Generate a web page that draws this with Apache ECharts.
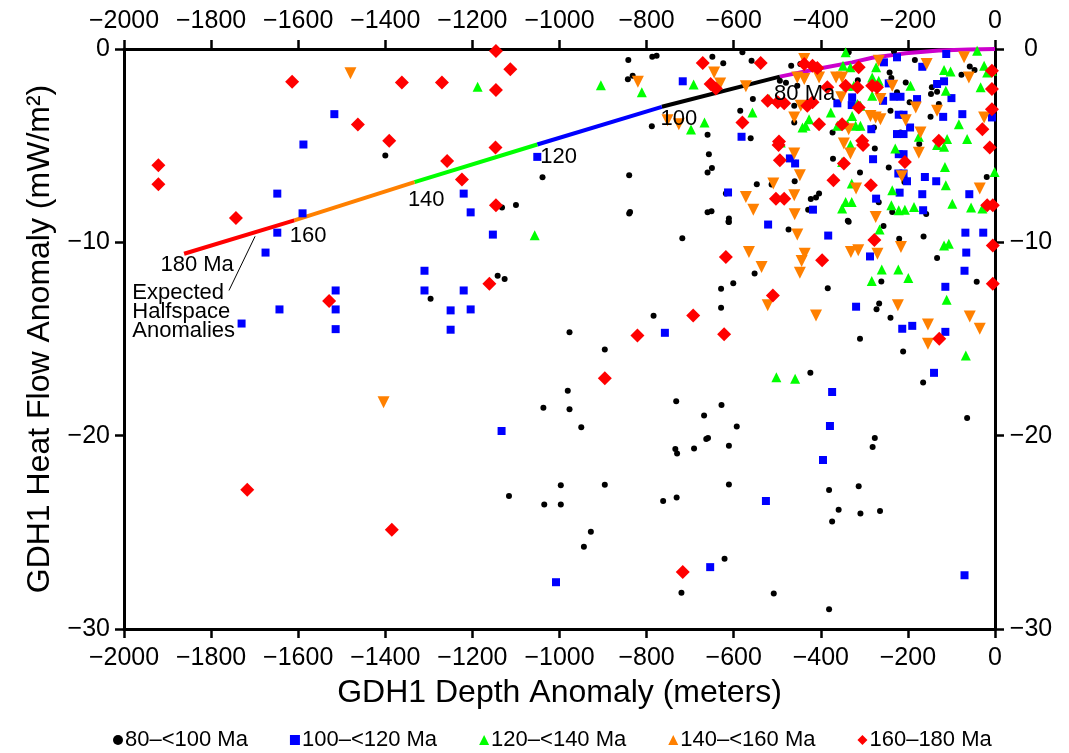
<!DOCTYPE html>
<html>
<head>
<meta charset="utf-8">
<script src="https://cdn.jsdelivr.net/npm/echarts@6/dist/echarts.min.js"></script>
<style>
  html, body { margin: 0; padding: 0; background: #fff; }
  #chart { width: 1069px; height: 753px; }
</style>
</head>
<body>
<div id="chart"></div>
<script>
// age groups: [depth anomaly (m), heat flow anomaly (mW/m2)]
const age80 = [
  [-1400, -5.51],
  [-842, -0.57], [-787, -0.4], [-777, -0.35], [-843, -1.57], [-832, -1.38], [-788, -3.99], [-1039, -6.63],
  [-840, -6.53], [-1132, -8.2], [-1100, -8.07], [-840, -8.51], [-838, -8.43], [-718, -9.79], [-1142, -11.73],
  [-1126, -11.9], [-1296, -12.92], [-784, -13.8], [-977, -14.65],
  [-896, -15.54], [-981, -17.68], [-1037, -18.55], [-977, -18.64], [-950, -19.57], [-732, -18.22], [-734, -20.69],
  [-730, -20.92], [-691, -20.67], [-997, -22.57], [-896, -22.54], [-1116, -23.12], [-1035, -23.56], [-997, -23.56],
  [-762, -23.38], [-731, -23.2], [-928, -24.97], [-944, -25.75], [-720, -28.13],
  [-628, -18.41], [-668, -18.96], [-593, -19.52], [-663, -20.17], [-659, -20.12], [-611, -20.52], [-611, -22.52],
  [-621, -26.37], [-508, -28.17], [-381, -28.98], [-276, -20.12], [-281, -20.59], [-64, -19.08], [-381, -22.81],
  [-313, -22.61], [-359, -23.83], [-309, -24.02], [-264, -23.9], [-374, -24.44],
  [-612, -8.93], [-474, -9.33], [-336, -8.93], [-256, -9.15], [-220, -9.81], [-164, -9.7], [-133, -10.81],
  [-42, -12.04], [-552, -11.61], [-601, -12.11], [-629, -12.4], [-629, -13.38], [-384, -12.37], [-261, -12.02],
  [-266, -13.16], [-272, -13.46], [-240, -13.9], [-310, -14.99], [-211, -15.65], [-424, -16.75], [-165, -17.25],
  [-649, -0.4], [-624, -0.74], [-580, -0.17], [-559, -0.61], [-468, -0.86], [-447, -0.78], [-494, -1.64],
  [-480, -1.75], [-454, -1.9], [-556, -2.59], [-585, -3.2], [-461, -2.94], [-461, -3.8], [-660, -4.44],
  [-561, -4.61], [-373, -4.32], [-405, -1.12],
  [-336, -0.17], [-232, -0.12], [-184, -0.57], [-58, -0.9], [-47, -1.09], [-77, -1.33], [-315, -1.61],
  [-242, -1.21], [-238, -1.5], [-205, -1.73], [-225, -2.24], [-145, -1.98], [-147, -2.33], [-133, -2.21],
  [-196, -2.76], [-129, -2.85], [-240, -3.2], [-148, -3.51], [-278, -4.06], [-217, -4.32],
  [-657, -5.44], [-650, -6.15], [-660, -6.39], [-547, -6.99], [-513, -7.01], [-460, -6.84], [-457, -5.89],
  [-372, -5.68], [-618, -7.48], [-404, -7.48], [-411, -7.68], [-423, -7.76], [-429, -8.31], [-660, -8.45],
  [-651, -8.39], [-611, -8.77], [-611, -8.95],
  [-276, -5.15], [-174, -4.92], [-244, -6.13], [-310, -6.39], [-208, -6.65], [-208, -6.88], [-19, -6.62],
  [-267, -7.93], [-236, -8.43], [-158, -8.53], [-338, -8.89]
];
const age100 = [
  [-1517, -3.37], [-1588, -4.94], [-1648, -7.48], [-1590, -8.5], [-1648, -9.5], [-1675, -10.53], [-1514, -12.49],
  [-1643, -13.47], [-1514, -13.47], [-1730, -14.2], [-1514, -14.49],
  [-717, -1.67], [-1051, -5.58], [-1220, -7.48], [-1204, -8.45], [-1153, -9.6], [-1310, -11.47], [-1310, -12.49],
  [-1220, -12.49], [-1250, -13.52], [-1204, -13.47], [-1250, -14.52], [-758, -14.68],
  [-1133, -19.76], [-1008, -27.58],
  [-379, -19.5], [-395, -21.26], [-526, -23.38], [-654, -26.8], [-70, -27.22],
  [-521, -9.08], [-383, -9.65], [-287, -10.73], [-68, -9.5], [-27, -9.5], [-66, -10.53], [-70, -11.47],
  [-114, -12.3], [-319, -13.33], [-213, -14.47], [-190, -14.32], [-114, -14.63], [-140, -16.75], [-374, -17.74],
  [-582, -4.54], [-362, -2.81],
  [-255, -0.69], [-225, -0.43], [-167, -0.92], [-112, -0.26], [-244, -1.78], [-133, -1.81], [-117, -1.67],
  [-328, -2.5], [-329, -2.9], [-257, -2.68], [-217, -2.47], [-233, -2.47], [-179, -2.59], [-100, -2.54],
  [-221, -3.4], [-210, -3.4], [-119, -3.51], [-75, -3.37], [-7, -3.54], [-195, -4.06], [-284, -4.15],
  [-225, -4.4], [-210, -4.4],
  [-471, -5.66], [-459, -5.92], [-613, -7.42], [-418, -8.31],
  [-280, -5.7], [-221, -5.44], [-210, -5.44], [-222, -6.44], [-210, -6.44], [-202, -6.84], [-161, -6.62],
  [-135, -6.84], [-219, -7.43], [-167, -7.51], [-59, -7.51], [-273, -7.74], [-165, -8.34]
];
const age120 = [
  [-1188, -1.95], [-905, -1.88], [-811, -2.24], [-692, -1.83], [-698, -4.16], [-1057, -9.64],
  [-265, -9.34], [-117, -10.16], [-106, -10.07], [-260, -11.41], [-222, -11.41], [-283, -12.0], [-199, -11.85],
  [-111, -12.97], [-67, -15.85], [-502, -16.98], [-459, -17.05],
  [-519, -2.59], [-557, -3.28], [-667, -3.8], [-427, -3.63], [-435, -3.97], [-442, -4.06], [-377, -3.28],
  [-362, -3.97], [-492, -4.83],
  [-343, -0.17], [-349, -0.86], [-332, -0.95], [-273, -0.95], [-282, -1.47], [-267, -1.64], [-324, -1.9],
  [-339, -1.9], [-282, -2.42], [-316, -2.85], [-309, -2.94], [-328, -3.46], [-339, -3.89], [-320, -3.97],
  [-309, -3.97], [-194, -1.9], [-117, -1.09], [-102, -1.16], [-113, -2.16], [-41, -0.09], [-25, -0.86],
  [-18, -1.21], [-7, -1.12], [-33, -1.98], [-83, -3.89], [-64, -4.66], [-110, -4.66], [-175, -4.54],
  [-332, -4.97], [-229, -5.15], [-133, -4.97], [-117, -5.06], [-351, -5.84], [-115, -6.1], [-329, -6.96],
  [-236, -7.31], [-113, -7.05], [-343, -7.91], [-329, -7.91], [-351, -8.25], [-238, -8.08], [-221, -8.34],
  [-207, -8.31], [-186, -8.17], [-98, -8.0], [-55, -8.2], [-29, -8.25], [-1, -6.36]
];
const age140 = [
  [-1480, -1.26], [-1404, -18.27],
  [-820, -1.69], [-752, -3.68], [-726, -3.89],
  [-454, -9.59], [-565, -10.5], [-536, -11.28], [-437, -10.59], [-444, -10.97], [-448, -11.57], [-331, -10.5],
  [-314, -10.41], [-270, -10.59], [-216, -10.24], [-522, -13.26], [-411, -13.78], [-223, -13.26], [-154, -14.25],
  [-154, -15.25], [-58, -13.83], [-35, -14.47],
  [-645, -1.21], [-631, -1.78], [-572, -1.93], [-438, -0.52], [-454, -1.47], [-438, -1.55], [-404, -1.47],
  [-365, -1.47], [-446, -2.94], [-461, -3.54],
  [-267, -0.61], [-157, -0.78], [-71, -0.43], [-60, -1.47], [-351, -1.47], [-236, -1.9], [-263, -2.59],
  [-353, -2.5], [-182, -3.02], [-133, -3.2], [-286, -3.46], [-274, -3.54], [-263, -3.63], [-205, -3.68],
  [-25, -3.54], [-171, -4.32], [-336, -4.15],
  [-461, -5.4], [-448, -6.53], [-509, -6.96], [-572, -7.65], [-461, -7.56], [-555, -8.31], [-460, -8.55],
  [-347, -4.89], [-332, -5.4], [-175, -5.37], [-319, -7.22], [-214, -6.58], [-35, -7.22], [-274, -8.69]
];
const age160 = [
  [-1614, -1.69], [-1362, -1.73], [-1463, -3.9], [-1391, -4.75], [-1921, -6.01], [-1921, -7.0], [-1743, -8.74],
  [-1529, -13.04], [-1717, -22.8], [-1385, -24.87],
  [-1146, -0.1], [-1113, -1.05], [-1270, -1.73], [-1146, -2.12], [-1147, -5.09], [-1258, -5.79], [-1224, -6.75],
  [-1146, -8.08], [-1161, -12.14], [-693, -13.78], [-821, -14.82], [-896, -17.03], [-717, -27.05],
  [-277, -9.88], [-618, -10.76], [-397, -10.93], [-510, -12.75], [-622, -14.75], [-128, -14.99], [-5, -10.16],
  [-5, -12.14],
  [-671, -0.73], [-538, -0.73], [-653, -1.81], [-641, -2.04], [-438, -0.78], [-419, -0.86], [-408, -0.98],
  [-385, -1.98], [-522, -2.68], [-499, -2.76], [-484, -2.81], [-431, -2.94], [-419, -2.76], [-580, -3.8],
  [-404, -3.89], [-496, -4.78],
  [-313, -0.95], [-343, -1.9], [-316, -1.98], [-282, -1.9], [-271, -1.98], [-7, -1.12], [-7, -2.07],
  [-7, -3.11], [-313, -3.02], [-351, -3.89], [-305, -4.75], [-29, -4.15], [-129, -4.75],
  [-497, -4.96], [-494, -5.75], [-503, -7.74], [-484, -7.74], [-371, -6.79],
  [-303, -4.96], [-347, -5.92], [-207, -5.84], [-285, -7.05], [-12, -5.09], [-18, -8.08], [-5, -8.08]
];

// expected halfspace anomaly curve
const youngCurve = [[0, 0], [-60, -0.02], [-129, -0.08], [-205, -0.22], [-282, -0.45], [-328, -0.69], [-400, -1.0], [-494, -1.43]];
const curveAges = [80, 100, 120, 140, 160, 180];
const curvePoints = [[-494, -1.43], [-765, -2.99], [-1051, -4.94], [-1333, -6.89], [-1609, -8.86], [-1862, -10.59]];
const curveLabels = ['80 Ma', '100', '120', '140', '160', '180 Ma'];
const curveLabelPos = [[-437, -2.33], [-726, -3.63], [-1002, -5.6], [-1306, -7.82], [-1577, -9.69], [-1832, -11.19]];
const noteText = 'Expected\nHalfspace\nAnomalies';
const notePos = [-1982, -13.6];
const noteLeader = [[-1759, -12.49], [-1699, -9.69]];

const groupNames = ['80\u2013<100 Ma', '100\u2013<120 Ma', '120\u2013<140 Ma', '140\u2013<160 Ma', '160\u2013180 Ma'];
const xTicks = { min: -2000, max: 0, step: 200 };
const yTicks = { min: -30, max: 0, step: 10 };

const segColors = ['#000000', '#0000ff', '#00ff00', '#ff8000', '#ff0000'];
const FONT = '"Liberation Sans", Arial, Helvetica, sans-serif';

const chart = echarts.init(document.getElementById('chart'));

const minus = v => String(v).replace('-', '\u2212');

function xAxis(pos, margin) {
  return {
    type: 'value',
    position: pos,
    min: xTicks.min, max: xTicks.max, interval: xTicks.step,
    axisLine: { show: true, onZero: false, lineStyle: { color: '#000', width: 3 } },
    axisTick: { show: true, length: 9, lineStyle: { color: '#000', width: 2.5 } },
    axisLabel: { color: '#000', fontSize: 25, fontFamily: FONT, margin: margin, formatter: minus },
    splitLine: { show: false },
  };
}

function yAxis(pos, margin, align) {
  return {
    type: 'value',
    position: pos,
    min: yTicks.min, max: yTicks.max, interval: yTicks.step,
    axisLine: { show: true, onZero: false, lineStyle: { color: '#000', width: 3 } },
    axisTick: { show: true, length: 9, lineStyle: { color: '#000', width: 2.5 } },
    axisLabel: { color: '#000', fontSize: 25, fontFamily: FONT, margin: margin, align: align, formatter: minus },
    splitLine: { show: false },
  };
}

const segSeries = segColors.map((c, i) => ({
  type: 'line',
  data: [curvePoints[i], curvePoints[i + 1]],
  symbol: 'none',
  lineStyle: { color: c, width: 4 },
  silent: true,
  z: 1,
}));

const scatterStyle = [
  { symbol: 'circle', symbolSize: 6, color: '#000000' },
  { symbol: 'rect', symbolSize: 8, color: '#0000ff' },
  { symbol: 'triangle', symbolSize: 10, color: '#00ff00' },
  { symbol: 'triangle', symbolSize: 12, color: '#ff8000', rotate: 180 },
  { symbol: 'diamond', symbolSize: 14, color: '#ff0000' },
];
const groups = [age80, age100, age120, age140, age160];

const scatterSeries = groups.map((d, i) => ({
  name: groupNames[i],
  type: 'scatter',
  data: d,
  symbol: scatterStyle[i].symbol,
  symbolSize: scatterStyle[i].symbolSize,
  symbolRotate: scatterStyle[i].rotate || 0,
  itemStyle: { color: scatterStyle[i].color, opacity: 1 },
  z: 2,
}));

const textLabel = {
  color: '#000', fontSize: 22, fontFamily: FONT, textBorderWidth: 0, opacity: 1,
};

chart.setOption({
  animation: false,
  backgroundColor: '#fff',
  textStyle: { fontFamily: FONT },
  grid: { left: 124, right: 74, top: 49, bottom: 124, containLabel: false },
  xAxis: [
    Object.assign(xAxis('bottom', 17), {
      name: 'GDH1 Depth Anomaly (meters)',
      nameLocation: 'middle',
      nameGap: 48,
      nameTextStyle: { color: '#000', fontSize: 32, fontFamily: FONT },
    }),
    xAxis('top', 15),
  ],
  yAxis: [
    Object.assign(yAxis('left', 14, 'right'), {
      name: 'GDH1 Heat Flow Anomaly (mW/m\u00b2)',
      nameLocation: 'middle',
      nameGap: 68,
      nameTextStyle: { color: '#000', fontSize: 32, fontFamily: FONT },
    }),
    yAxis('right', 36, 'center'),
  ],
  legend: {
    data: groupNames,
    left: 108,
    top: 724,
    itemWidth: 10,
    itemHeight: 10,
    itemGap: 42,
    textStyle: { color: '#000', fontSize: 22, fontFamily: FONT, padding: [0, 0, 0, -3] },
  },
  series: [
    {
      type: 'line',
      data: youngCurve,
      symbol: 'none',
      lineStyle: { color: '#cc00cc', width: 4 },
      silent: true,
      z: 1,
    },
    ...segSeries,
    ...scatterSeries,
    {
      type: 'line',
      data: noteLeader,
      symbol: 'none',
      lineStyle: { color: '#000', width: 1 },
      silent: true,
      z: 3,
    },
    {
      type: 'scatter',
      data: curveLabelPos.map((p, i) => ({ value: p, name: curveLabels[i] })),
      symbolSize: 1,
      itemStyle: { color: 'transparent' },
      label: Object.assign({ show: true, position: 'inside', formatter: '{b}' }, textLabel),
      silent: true,
      z: 4,
    },
    {
      type: 'scatter',
      data: [{ value: notePos, name: noteText }],
      symbolSize: 1,
      itemStyle: { color: 'transparent' },
      label: Object.assign({
        show: true, position: 'right', distance: 0, formatter: '{b}', align: 'left', lineHeight: 19,
      }, textLabel),
      silent: true,
      z: 4,
    },
  ],
});
</script>
</body>
</html>
